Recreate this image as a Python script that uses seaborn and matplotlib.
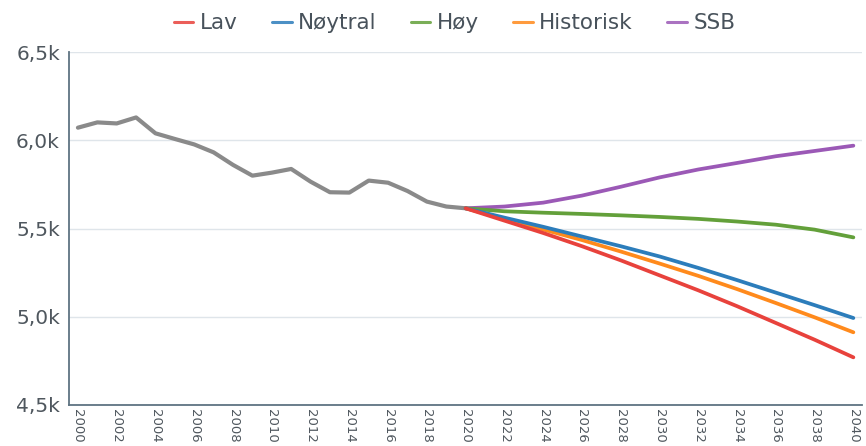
import numpy as np
import pandas as pd
import matplotlib
matplotlib.use("Agg")
import matplotlib.pyplot as plt
from matplotlib.lines import Line2D
from matplotlib.ticker import FuncFormatter
import seaborn as sns

sns.set_style("white")
plt.rcParams['font.family'] = ['DejaVu Sans']

# historical series
hist_years = list(range(2000, 2021))
hist_values = [6072, 6102, 6096, 6130, 6040, 6008, 5977, 5932, 5861, 5800, 5817,
               5838, 5766, 5706, 5704, 5772, 5760, 5713, 5653, 5625, 5615]

# projections
proj_years = list(range(2020, 2041, 2))
lav = [5615, 5545, 5475, 5400, 5320, 5235, 5150, 5060, 4965, 4870, 4770]
noytral = [5615, 5562, 5510, 5455, 5400, 5342, 5277, 5208, 5137, 5066, 4993]
hoy = [5615, 5598, 5590, 5583, 5575, 5566, 5555, 5540, 5522, 5494, 5450]
historisk = [5615, 5555, 5495, 5435, 5370, 5302, 5232, 5157, 5078, 4997, 4912]
ssb = [5615, 5625, 5647, 5687, 5737, 5790, 5835, 5872, 5910, 5940, 5970]

series_names = ["Lav", "Nøytral", "Høy", "Historisk", "SSB"]
colors = ["#e8423c", "#2c7dbb", "#63a03a", "#ff8a1c", "#9b59b6"]

hist_df = pd.DataFrame({"year": hist_years, "value": hist_values})
proj_df = pd.concat([
    pd.DataFrame({"year": proj_years, "value": vals, "serie": name})
    for name, vals in zip(series_names, [lav, noytral, hoy, historisk, ssb])
])

fig = plt.figure(figsize=(8.66, 4.46), dpi=100)
ax = fig.add_axes([0.0797, 0.092, 0.916, 0.791])

sns.lineplot(data=hist_df, x="year", y="value", color="#8a8a8a", linewidth=3.0, ax=ax)
# draw in reverse so Lav ends on top
for name, col in reversed(list(zip(series_names, colors))):
    sns.lineplot(data=proj_df[proj_df["serie"] == name], x="year", y="value",
                 color=col, linewidth=2.7, ax=ax)

ax.set_xlim(1999.54, 2040.46)
ax.set_ylim(4500, 6500)
ax.set_xticks(range(2000, 2041, 2))
ax.set_yticks([4500, 5000, 5500, 6000, 6500])
ax.yaxis.set_major_formatter(FuncFormatter(lambda v, p: f"{v/1000:.1f}k".replace(".", ",")))
ax.set_xlabel("")
ax.set_ylabel("")
ax.tick_params(axis="x", labelrotation=-90, length=0, pad=3, labelsize=9.5, colors="#4f575e")
ax.tick_params(axis="y", length=0, pad=6.5, labelsize=14.5, colors="#4f575e")
ax.grid(axis="y", color="#dfe5ea", linewidth=1.0)
ax.set_axisbelow(True)
for s in ["top", "right"]:
    ax.spines[s].set_visible(False)
for s in ["left", "bottom"]:
    ax.spines[s].set_color("#5f7482")
    ax.spines[s].set_linewidth(1.3)

handles = [Line2D([0], [0], color=c, linewidth=2.2, alpha=0.85) for c in colors]
fig.legend(handles, series_names, loc="center", bbox_to_anchor=(0.525, 0.948), ncol=5,
           frameon=False, handlelength=0.9, handletextpad=0.3, columnspacing=1.6,
           prop={"size": 15.5}, labelcolor="#48525b")

fig.savefig("out.png", dpi=100)
